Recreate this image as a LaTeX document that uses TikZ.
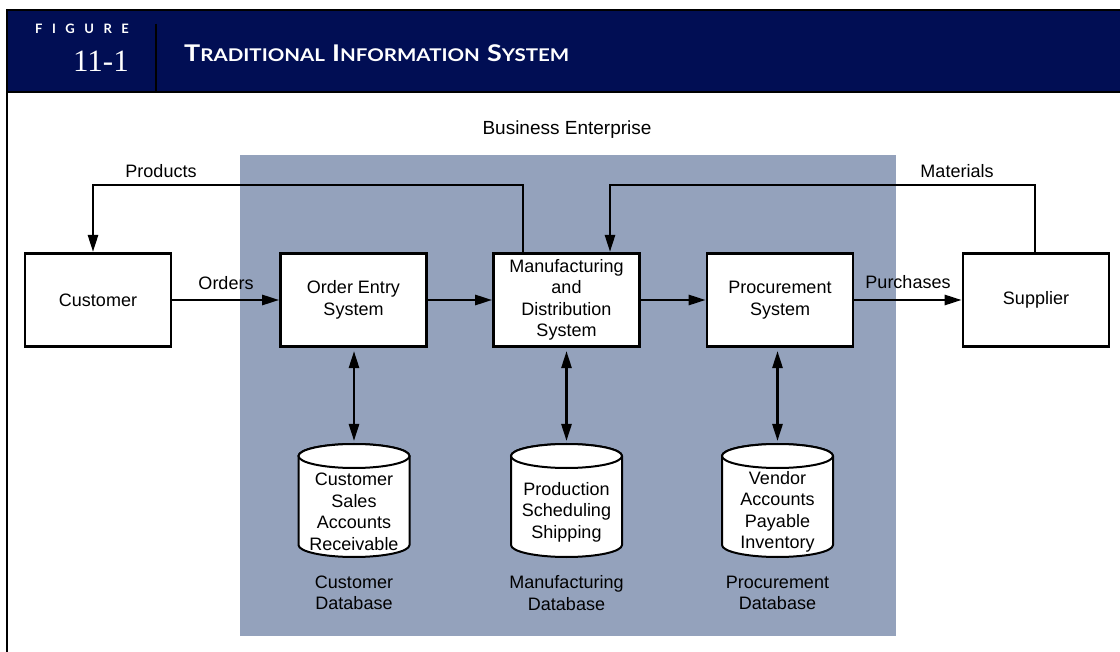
\documentclass[tikz,border=0pt]{standalone}
\usepackage{fontspec}
\setmainfont{Liberation Sans}
\newfontfamily\hdrfont{Lato}
\newfontfamily\numfont{Liberation Serif}
\usetikzlibrary{arrows.meta}
\definecolor{navy}{RGB}{1,14,84}
\definecolor{shadebg}{RGB}{148,162,188}
\newcommand\fs{\fontsize{18}{21.5}\selectfont}
\newcommand\scw[2]{{\fontsize{23}{23}\selectfont #1}{\fontsize{17.5}{17.5}\selectfont #2}}
\tikzset{
  box/.style={draw,line width=2.6pt,fill=white,minimum width=146pt,minimum height=93.5pt,inner sep=0pt,align=center,font=\fs},
  lbl/.style={inner sep=0pt,align=center,font=\fs},
  arr/.style={line width=2.6pt,-{Triangle[length=17pt,width=10pt]}},
  biarr/.style={line width=2.6pt,{Triangle[length=17pt,width=10pt]}-{Triangle[length=17pt,width=10pt]},shorten <=3pt,shorten >=3pt},
  cylnode/.style={minimum width=111pt,minimum height=113pt,inner sep=0pt,outer sep=0pt},
  cylline/.style={draw,line width=2pt,fill=white},
  hline/.style={line width=2.5pt,draw=black}
}
\newcommand\dbcyl[2]{%
  \node[cylnode] (#1) at (#2,500.5) {};
  \path[cylline] (#2-55.5,456) -- (#2-55.5,545)
     arc[start angle=180,end angle=360,x radius=55.5pt,y radius=12pt]
     -- (#2+55.5,456)
     arc[start angle=0,end angle=180,x radius=55.5pt,y radius=12pt] -- cycle;
  \draw[cylline] (#2,456) ellipse[x radius=55.5pt,y radius=12pt];
}
\begin{document}
\begin{tikzpicture}[x=1pt,y=-1pt]
\useasboundingbox (0,0) rectangle (1120,652);
% header
\fill[navy] (7,10) rectangle (1120,92);
\draw[line width=2pt] (6,10) -- (1120,10);
\draw[hline] (6,92) -- (1120,92);
\draw[hline] (7,9) -- (7,652);
\draw[hline] (156,24) -- (156,92);
\node[anchor=base west,inner sep=0pt,text=white,font=\hdrfont\bfseries\fontsize{13}{13}\selectfont] (figlbl) at (35,34)
  {F\kern9.5pt I\kern9.5pt G\kern9.5pt U\kern9.5pt R\kern9.5pt E};
\node[anchor=base east,inner sep=0pt,text=white,font=\numfont\fontsize{31}{31}\selectfont] (fignum) at (129,72) {11-1};
\node[anchor=base west,inner sep=0pt,text=white,font=\hdrfont\bfseries] (title) at (184,62)
  {\resizebox{385pt}{\height}{\scw{T}{RADITIONAL}\hspace{6pt}\scw{I}{NFORMATION}\hspace{6pt}\scw{S}{YSTEM}}};
% enterprise area
\fill[shadebg] (240,155) rectangle (896,636);
\node[lbl,font=\fontsize{19}{22}\selectfont] (ent) at (567,130) {Business Enterprise};
% boxes
\node[box] (cust) at (98,300) {Customer};
\node[box] (oe) at (353.5,300) {Order Entry\\System};
\node[box] (mfg) at (566.5,300) {Manufacturing\\and\\Distribution\\System};
\node[box] (proc) at (780,300) {Procurement\\System};
\node[box] (sup) at (1036,300) {Supplier};
% horizontal flows
\draw[arr] (cust.east) -- (oe.west);
\draw[arr] (oe.east) -- (mfg.west);
\draw[arr] (mfg.east) -- (proc.west);
\draw[arr] (proc.east) -- (sup.west);
\node[lbl,anchor=base] (orders) at (226,290) {Orders};
\node[lbl,anchor=base] (purch) at (908,289) {Purchases};
% products / materials loops
\coordinate (pa) at (523,185);
\coordinate (pb) at (93,185);
\draw[arr] (pa |- mfg.north) -- (pa) -- (pb) -- (pb |- cust.north);
\node[lbl] (prod) at (161,171) {Products};
\coordinate (ma) at (1035,185);
\coordinate (mb) at (610,185);
\draw[arr] (ma |- sup.north) -- (ma) -- (mb) -- (mb |- mfg.north);
\node[lbl] (mat) at (957,171) {Materials};
% databases
\dbcyl{cdb}{354}
\dbcyl{mdb}{566.5}
\dbcyl{pdb}{777.5}
\node[lbl] (cdbt) at (354,512) {Customer\\Sales\\Accounts\\Receivable};
\node[lbl] (mdbt) at (566.5,512) {Production\\Scheduling\\Shipping};
\node[lbl] (pdbt) at (777.5,512) {Vendor\\Accounts\\Payable\\Inventory};
\draw[biarr] (cdb.north |- oe.south) -- (cdb.north);
\draw[biarr] (mdb.north |- mfg.south) -- (mdb.north);
\draw[biarr] (pdb.north |- proc.south) -- (pdb.north);
\node[lbl] (cdbl) at (354,593) {Customer\\Database};
\node[lbl] (mdbl) at (566.5,593) {Manufacturing\\Database};
\node[lbl] (pdbl) at (777.5,593) {Procurement\\Database};
\end{tikzpicture}
\end{document}
